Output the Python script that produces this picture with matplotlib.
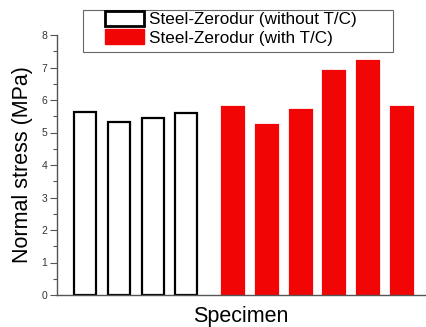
import matplotlib
matplotlib.use('Agg')
import matplotlib.pyplot as plt
from matplotlib.patches import Rectangle, Patch
from matplotlib.ticker import MultipleLocator
import numpy as np

plt.rcParams['font.family'] = ['Liberation Sans', 'DejaVu Sans']

# Data
without_tc = [5.62, 5.31, 5.44, 5.60]
with_tc = [5.79, 5.24, 5.68, 6.90, 7.20, 5.77]
labels = ['Steel-Zerodur (without T/C)', 'Steel-Zerodur (with T/C)']

red = '#f20505'
grey = '#555555'

fig = plt.figure(figsize=(4.27, 3.27), dpi=100)
ax = fig.add_axes([57/427, 32/327, 368/427, 260/327])

x1 = np.arange(len(without_tc)) + 1
x2 = np.arange(len(with_tc)) + x1[-1] + 1.38
w = 0.65
ax.bar(x1, without_tc, width=w, facecolor='white', edgecolor='black', linewidth=1.6)
ax.bar(x2, with_tc, width=w, facecolor=red, edgecolor=red, linewidth=1.6)

ax.set_xlim(0.17, 11.06)
ax.set_ylim(0, 8)
ax.yaxis.set_major_locator(MultipleLocator(1))
ax.yaxis.set_minor_locator(MultipleLocator(0.5))
ax.set_xticks([])
for s in ['top', 'right']:
    ax.spines[s].set_visible(False)
for s in ['left', 'bottom']:
    ax.spines[s].set_color(grey)
    ax.spines[s].set_linewidth(1.0)
ax.tick_params(axis='y', which='major', length=5, width=0.8, color=grey,
               labelsize=7.5, labelcolor='#333333', pad=2)
ax.tick_params(axis='y', which='minor', length=3, width=0.8, color=grey)

ax.set_ylabel('Normal stress (MPa)', fontsize=15.5, labelpad=6)
ax.set_xlabel('Specimen', fontsize=15.5, labelpad=8)

# legend
handles = [Patch(facecolor='white', edgecolor='black', linewidth=2.0),
           Patch(facecolor=red, edgecolor=red)]
fig.patches.append(Rectangle((83/427, 1 - 52/327), 310/427, 42/327,
                             transform=fig.transFigure, facecolor='white',
                             edgecolor='#666666', linewidth=0.8, zorder=2))
leg = fig.legend(handles, labels, loc='upper left', bbox_to_anchor=(105/427, 1 - 11/327),
                 frameon=False, fontsize=12.3, handlelength=2.3, handleheight=0.95,
                 handletextpad=0.3, labelspacing=0.12, borderpad=0, borderaxespad=0)
leg.set_zorder(5)

fig.savefig('out.png', dpi=100)
